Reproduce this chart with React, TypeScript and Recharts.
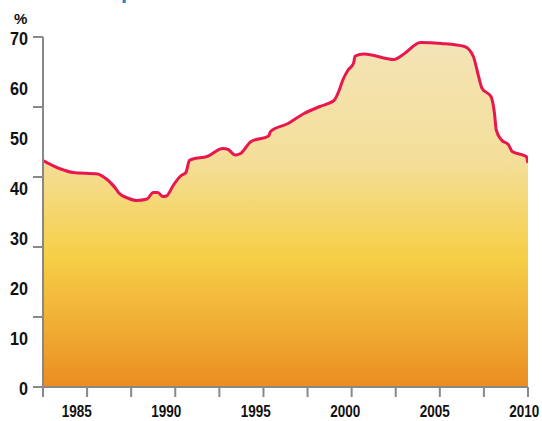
import { AreaChart, Area, XAxis, YAxis } from "recharts";

const years = [
  1982.5, 1983.5, 1984.2, 1985.6, 1985.9, 1986.6, 1986.8, 1987.3, 1987.8, 1988.4,
  1988.75, 1989.0, 1989.3, 1989.5, 1989.9, 1990.3, 1990.6, 1990.8, 1991.0, 1991.8,
  1992.7, 1993.0, 1993.4, 1993.7, 1994.3, 1995.3, 1995.4, 1996.4, 1997.3, 1998.2,
  1999.0, 1999.3, 1999.5, 1999.8, 2000.1, 2000.2, 2000.7, 2002.4, 2003.0, 2003.9,
  2005.1, 2006.4, 2006.9, 2007.2, 2007.4, 2007.9, 2008.1, 2008.2, 2008.5, 2008.9,
  2009.1, 2009.9, 2010,
];
const shares = [
  45.3, 43.6, 42.9, 42.6, 42.1, 39.8, 38.8, 37.8, 37.3, 37.6,
  38.9, 38.9, 38.1, 38.2, 40.4, 42.2, 42.9, 45.3, 45.6, 46.1,
  47.7, 47.5, 46.4, 46.7, 49.1, 50.2, 51.1, 52.7, 54.7, 56.1,
  57.3, 59.4, 61.4, 63.4, 64.7, 66.2, 66.6, 65.5, 66.7, 68.9,
  68.7, 68.1, 66.1, 62.1, 59.7, 58.1, 54.7, 51.4, 49.4, 48.4,
  47.1, 46.1, 44.8,
];

const xTicks = [1982.5, 1985, 1987.5, 1990, 1992.5, 1995, 1997.5, 2000, 2002.5, 2005, 2007.5, 2010];
const yLabels = [0, 10, 20, 30, 40, 50, 60, 70];
const yMarks = [0, 14, 28, 42, 56, 70];

const data = years.map((y, i) => ({ year: y, value: shares[i] }));

const font = "'Liberation Sans', Arial, sans-serif";

const YTick = (props: any) => {
  const { x, y, payload } = props;
  const v = payload.value;
  const label = String(v);
  return (
    <g>
      {yMarks.includes(v) && <line x1={x + 5} x2={x + 15} y1={y} y2={y} stroke="#888" strokeWidth={2} />}
      {yLabels.includes(v) && (
        <text
          x={x}
          y={y + 8}
          textAnchor="end"
          fontFamily={font}
          fontWeight="bold"
          fontSize={19}
          fill="#111"
          textLength={label.length * 9}
          lengthAdjust="spacingAndGlyphs"
        >
          {label}
        </text>
      )}
    </g>
  );
};

const XTick = (props: any) => {
  const { x, y, payload } = props;
  const v = payload.value;
  if (v % 5 !== 0) return null;
  // labels sit a little left of their tick marks in the original
  const cx = x * 1.0147 - 11.5;
  return (
    <text
      x={cx}
      y={y + 18}
      textAnchor="middle"
      fontFamily={font}
      fontWeight="bold"
      fontSize={17}
      fill="#111"
      textLength={30}
      lengthAdjust="spacingAndGlyphs"
    >
      {v}
    </text>
  );
};

export default function App() {
  return (
    <div style={{ position: "absolute", left: 0, top: 0, width: 542, height: 421, background: "#fff", overflow: "hidden" }}>
      <div style={{ position: "absolute", left: 121, top: -22, fontFamily: font, fontWeight: "bold", fontSize: 22, color: "#2a7fd0" }}>p</div>
      <div style={{ position: "absolute", left: 14, top: 10, fontFamily: font, fontWeight: "bold", fontSize: 15, color: "#111" }}>%</div>
      <AreaChart width={542} height={421} data={data} margin={{ top: 37, right: 14, bottom: 0, left: 0 }}>
        <defs>
          <linearGradient id="fillGrad" x1="0" y1="0" x2="0" y2="1">
            <stop offset="0%" stopColor="#F3E4B6" />
            <stop offset="35%" stopColor="#F4DE98" />
            <stop offset="62%" stopColor="#F6CF47" />
            <stop offset="82%" stopColor="#F0AE34" />
            <stop offset="100%" stopColor="#EB8D22" />
          </linearGradient>
        </defs>
        <XAxis
          dataKey="year"
          type="number"
          domain={[1982.5, 2010]}
          ticks={xTicks}
          height={34}
          tickSize={10}
          tickMargin={2}
          axisLine={{ stroke: "#888", strokeWidth: 2 }}
          tickLine={{ stroke: "#888", strokeWidth: 2 }}
          tick={<XTick />}
          interval={0}
          allowDataOverflow
        />
        <YAxis
          type="number"
          domain={[0, 70]}
          ticks={[0, 10, 14, 20, 28, 30, 40, 42, 50, 56, 60, 70]}
          width={43}
          tickSize={10}
          tickMargin={5}
          axisLine={{ stroke: "#888", strokeWidth: 2 }}
          tickLine={false}
          tick={<YTick />}
          interval={0}
        />
        <Area
          type="monotone"
          dataKey="value"
          stroke="#E8184E"
          strokeWidth={3}
          fill="url(#fillGrad)"
          fillOpacity={1}
          isAnimationActive={false}
          dot={false}
          activeDot={false}
        />
      </AreaChart>
    </div>
  );
}
